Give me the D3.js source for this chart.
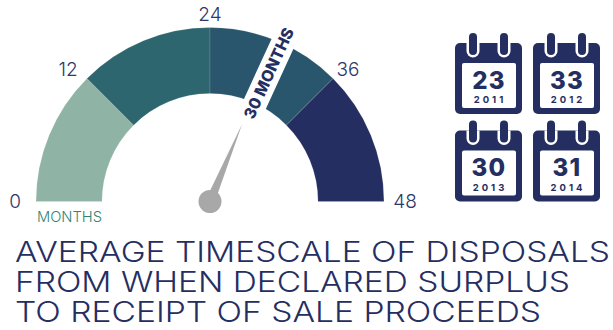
<!DOCTYPE html>
<html>
<head>
<meta charset="utf-8">
<script src="https://cdn.jsdelivr.net/npm/d3@7"></script>
<style>
html,body{margin:0;padding:0;background:#fff;}
svg{display:block;}
text{font-family:Inter,"Open Sans",sans-serif;}
</style>
</head>
<body>
<svg id="chart" width="613" height="330"></svg>
<script>
// Gauge data
const gaugeTicks = [0, 12, 24, 36, 48];
const segmentStarts = [0, 12, 24, 36];
const segmentEnds = [12, 24, 36, 48];
const segmentColors = ["#8fb3a5", "#2d666e", "#29566c", "#252e61"];
const currentValue = 30;
const valueUnit = "MONTHS";

// Yearly calendar tiles
const calendarYears = ["2011", "2012", "2013", "2014"];
const calendarValues = [23, 33, 30, 31];

const titleLines = [
  "AVERAGE TIMESCALE OF DISPOSALS",
  "FROM WHEN DECLARED SURPLUS",
  "TO RECEIPT OF SALE PROCEEDS"
];

const navy = "#252e61";
const labelNavy = "#2f3768";
const svg = d3.select("#chart");

// Gauge
const cx = 210, cy = 201.5, outerR = 174, innerR = 108;
const angle = d3.scaleLinear().domain([0, 48]).range([-Math.PI / 2, Math.PI / 2]);
const gauge = svg.append("g").attr("transform", `translate(${cx},${cy})`);
const arc = d3.arc().innerRadius(innerR).outerRadius(outerR);

gauge.selectAll("path.segment")
  .data(segmentStarts.map((s, i) => ({ s, e: segmentEnds[i], c: segmentColors[i] })))
  .join("path")
  .attr("class", "segment")
  .attr("d", d => arc({ startAngle: angle(d.s), endAngle: angle(d.e) }))
  .attr("fill", d => d.c)
  .attr("stroke", "#fff")
  .attr("stroke-opacity", 0.22)
  .attr("stroke-width", 0.6);

// Tick labels around the rim
gauge.selectAll("text.tick")
  .data(gaugeTicks)
  .join("text")
  .attr("class", "tick")
  .attr("x", d => Math.sin(angle(d)) * 195 + (d === 12 ? -4 : 0))
  .attr("y", d => -Math.cos(angle(d)) * 188 + (d === 0 || d === 48 ? -1 : 0) + 7)
  .attr("text-anchor", "middle")
  .attr("font-size", 19)
  .attr("font-weight", 300)
  .attr("fill", labelNavy)
  .text(d => d);

// Callout strip across the band, with its label
const calloutDeg = angle(currentValue) * 180 / Math.PI + 2.2;
const callout = gauge.append("g").attr("transform", `rotate(${calloutDeg})`);
callout.append("rect")
  .attr("x", -12).attr("y", -outerR - 14)
  .attr("width", 24).attr("height", outerR + 14 - innerR + 10)
  .attr("fill", "#fff");
callout.append("text")
  .attr("transform", "rotate(-90)")
  .attr("x", 141)
  .attr("y", 5.5)
  .attr("text-anchor", "middle")
  .attr("font-size", 16)
  .attr("font-weight", 800)
  .attr("fill", navy)
  .text(`${currentValue} ${valueUnit}`);

// Needle and pivot
const a = angle(currentValue);
const tip = [Math.sin(a) * 84, -Math.cos(a) * 84];
const baseW = 4.2, baseR = 8;
const base = [Math.sin(a) * baseR, -Math.cos(a) * baseR];
const perp = [Math.cos(a) * baseW, Math.sin(a) * baseW];
gauge.append("path")
  .attr("d", d3.line()([[base[0] + perp[0], base[1] + perp[1]], tip, [base[0] - perp[0], base[1] - perp[1]]]) + "Z")
  .attr("fill", "#a8a8a8");
gauge.append("circle").attr("r", 11.5).attr("fill", "#a8a8a8");

// Unit caption
svg.append("text")
  .attr("x", 37).attr("y", 222)
  .attr("font-size", 14)
  .attr("font-weight", 300)
  .attr("fill", "#2f8572")
  .attr("textLength", 65)
  .attr("lengthAdjust", "spacingAndGlyphs")
  .text(valueUnit);

// Calendar tiles
const col = d3.scalePoint().domain([0, 1]).range([455, 533]);
const row = d3.scalePoint().domain([0, 1]).range([43, 130.5]);
const tiles = svg.selectAll("g.cal")
  .data(calendarYears.map((y, i) => ({ y, v: calendarValues[i], c: i % 2, r: Math.floor(i / 2) })))
  .join("g")
  .attr("class", "cal")
  .attr("transform", d => `translate(${col(d.c)},${row(d.r)})`);

tiles.append("rect").attr("width", 67).attr("height", 71).attr("rx", 5).attr("fill", navy);
tiles.append("rect").attr("x", 7).attr("y", 20).attr("width", 54).attr("height", 45).attr("rx", 2).attr("fill", "#fff");
[18, 49].forEach(x => {
  tiles.append("path")
    .attr("d", `M${x - 6.5},0 V8 a6.5,6.5 0 0 0 13,0 V0 Z`)
    .attr("fill", "#fff");
  tiles.append("rect")
    .attr("x", x - 4).attr("y", -10).attr("width", 8).attr("height", 22).attr("rx", 4)
    .attr("fill", navy);
});
tiles.append("text")
  .attr("x", 34).attr("y", 45.5)
  .attr("text-anchor", "middle")
  .attr("font-size", 24).attr("font-weight", 800)
  .attr("letter-spacing", 1.2)
  .attr("fill", navy)
  .text(d => d.v);
tiles.append("text")
  .attr("x", 35).attr("y", 60)
  .attr("text-anchor", "middle")
  .attr("font-size", 9.5).attr("font-weight", 700)
  .attr("letter-spacing", 3)
  .attr("fill", navy)
  .text(d => d.y);

// Title, fitted to the measured width of each line
const titleWidths = [595, 555, 526];
svg.selectAll("text.title")
  .data(titleLines)
  .join("text")
  .attr("class", "title")
  .attr("x", 15)
  .attr("y", (d, i) => 262 + i * 30.2)
  .attr("font-size", 28.5)
  .attr("font-weight", 300)
  .attr("fill", navy)
  .attr("textLength", (d, i) => titleWidths[i])
  .attr("lengthAdjust", "spacingAndGlyphs")
  .text(d => d);
</script>
</body>
</html>
